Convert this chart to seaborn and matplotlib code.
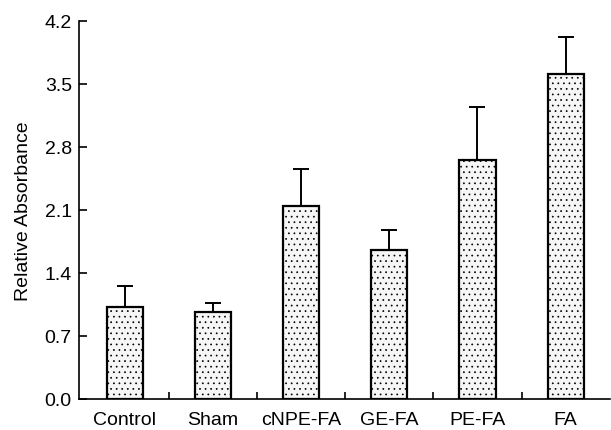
"""Relative absorbance bar chart with upward error bars."""

import matplotlib
matplotlib.use("Agg")
import matplotlib.pyplot as plt
import numpy as np
import seaborn as sns
from matplotlib.ticker import FixedLocator

groups = ["Control", "Sham", "cNPE-FA", "GE-FA", "PE-FA", "FA"]
means = [1.02, 0.97, 2.14, 1.66, 2.66, 3.61]
errors = [0.23, 0.10, 0.41, 0.22, 0.58, 0.41]
y_ticks = [0.0, 0.7, 1.4, 2.1, 2.8, 3.5, 4.2]

sns.set_style("ticks")
plt.rcParams["font.family"] = ["Liberation Sans", "DejaVu Sans"]
plt.rcParams["text.color"] = "black"
plt.rcParams["axes.labelcolor"] = "black"
plt.rcParams["xtick.color"] = "black"
plt.rcParams["ytick.color"] = "black"
plt.rcParams["axes.edgecolor"] = "black"
plt.rcParams["hatch.color"] = "#b0b0b0"
plt.rcParams["hatch.linewidth"] = 0.5

fig = plt.figure(figsize=(6.11, 4.31), dpi=100)
ax = fig.add_axes([0.129, 0.072, 0.869, 0.877])

sns.barplot(
    x=groups,
    y=means,
    color="#f6f6f6",
    saturation=1,
    width=0.41,
    edgecolor="black",
    linewidth=1.6,
    hatch="...",
    ax=ax,
)
ax.errorbar(
    np.arange(len(groups)),
    means,
    yerr=[np.zeros(len(errors)), errors],
    fmt="none",
    ecolor="black",
    elinewidth=1.4,
    capsize=6,
    capthick=1.4,
    zorder=1,
)

ax.set_xlim(-0.52, 5.5)
ax.set_ylim(0, 4.2)
ax.set_yticks(y_ticks)
ax.set_yticklabels([f"{t:.1f}" for t in y_ticks], fontsize=14)
ax.set_ylabel("Relative Absorbance", fontsize=14, labelpad=9)
ax.set_xlabel("")
ax.tick_params(axis="x", which="major", length=0, labelsize=14, pad=9)
ax.xaxis.set_minor_locator(FixedLocator([0.5, 1.5, 2.5, 3.5, 4.5]))
ax.tick_params(axis="x", which="minor", direction="in", length=5, width=1.2)
ax.tick_params(axis="y", direction="in", length=6, width=1.2, pad=5)
for side in ["left", "bottom"]:
    ax.spines[side].set_linewidth(1.2)
sns.despine(ax=ax)

fig.savefig("out.png", dpi=100)
